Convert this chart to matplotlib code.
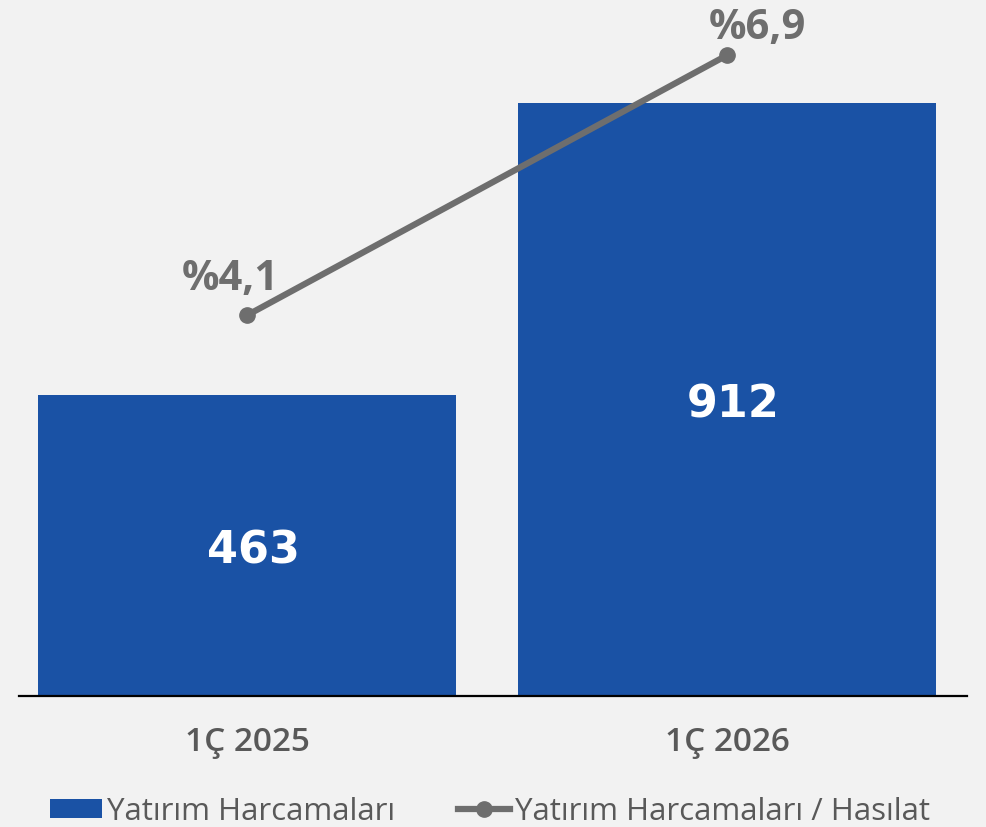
import matplotlib.pyplot as plt

# veriler
donemler = ["1Ç 2025", "1Ç 2026"]
yatirim = [463, 912]
oran = [4.1, 6.9]
oran_etiket = ["%4,1", "%6,9"]

mavi = "#1a52a5"
gri = "#6e6e6e"
yazi = "#595959"
arka = "#f2f2f2"

plt.rcParams['font.family'] = ['Open Sans', 'DejaVu Sans']

fig = plt.figure(figsize=(9.87, 8.28), dpi=100, facecolor=arka)
W, H = 987, 828
ax = fig.add_axes([19 / W, 1 - 697 / H, 948 / W, 697 / H])
ax.set_facecolor(arka)
x = list(range(len(donemler)))

bars = ax.bar(x, yatirim, width=0.871, color=mavi, label="Yatırım Harcamaları", zorder=2)
ax.set_xlim(-0.475, 1.5)
ax.set_ylim(0, 1072)
for xi, v in zip(x, yatirim):
    ax.text(xi + 0.013, v / 2 - 7, str(v), ha="center", va="center",
            color="white", fontsize=32, fontweight="bold", zorder=3,
            family="DejaVu Sans")

for s in ["top", "right", "left"]:
    ax.spines[s].set_visible(False)
ax.spines["bottom"].set_linewidth(1.6)
ax.spines["bottom"].set_color("black")
ax.set_yticks([])
ax.set_xticks(x)
ax.set_xticklabels(donemler, fontsize=24, fontweight="semibold", color=yazi)
ax.tick_params(axis="x", length=0, pad=21)

ax2 = ax.twinx()
ax2.set_ylim(0, 7.506)
ax2.set_yticks([])
for s in ax2.spines.values():
    s.set_visible(False)
ln, = ax2.plot(x, oran, color=gri, linewidth=4.5, marker="o", markersize=11,
               label="Yatırım Harcamaları / Hasılat", zorder=4)
offs = [(-0.035, 0.40), (0.0625, 0.30)]
for xi, v, t, (dx, dy) in zip(x, oran, oran_etiket, offs):
    ax2.text(xi + dx, v + dy, t, ha="center", va="center", color=gri,
             fontsize=30, fontweight="bold")

leg = fig.legend(handles=[bars, ln], loc="lower center", ncol=2,
                 bbox_to_anchor=(0.4965, -0.033), frameon=False, fontsize=22.5,
                 handlelength=1.66, handletextpad=0.16, columnspacing=2.0,
                 handleheight=0.55)
for t in leg.get_texts():
    t.set_color(yazi)

fig.savefig("out.png", dpi=100, facecolor=arka)
